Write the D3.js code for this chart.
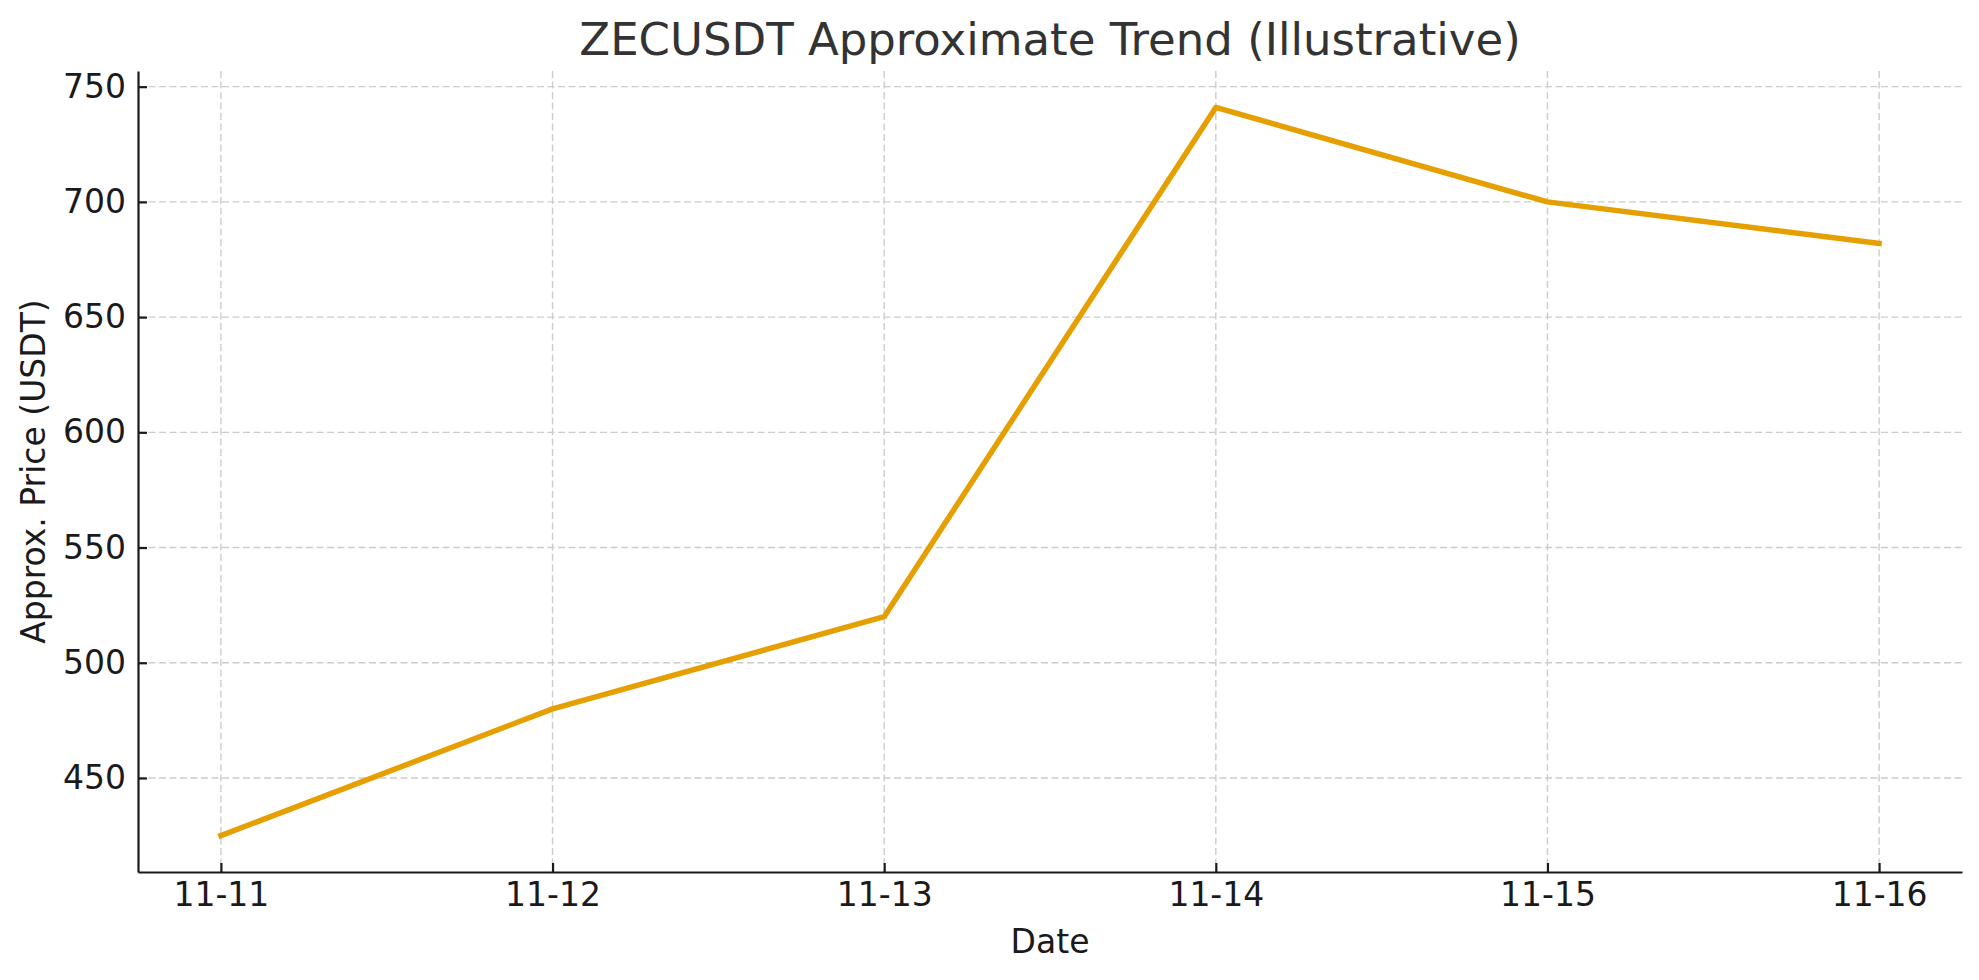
<!DOCTYPE html>
<html><head><meta charset="utf-8">
<script src="https://cdn.jsdelivr.net/npm/d3@7"></script>
<style>body{margin:0;background:#fff;} text{font-family:"DejaVu Sans",sans-serif;}</style>
</head><body><svg id="chart" width="1979" height="980"></svg>
<script>
const dates = ["11-11","11-12","11-13","11-14","11-15","11-16"];
const prices = [425,480,520,741,700,682];
const yTicks = [450,500,550,600,650,700,750];
const title = "ZECUSDT Approximate Trend (Illustrative)";
const xLabel = "Date";
const yLabel = "Approx. Price (USDT)";

const L = 138, R = 1962, T = 71, B = 872;
const svg = d3.select("#chart");
const n = dates.length;
const x = d3.scaleLinear().domain([-0.05*(n-1), (n-1)*1.05]).range([L, R]);
const ymin = d3.min(prices), ymax = d3.max(prices), pad = (ymax-ymin)*0.05;
const y = d3.scaleLinear().domain([ymin-pad, ymax+pad]).range([B, T]);

const grid = svg.append("g").attr("stroke","#cccccc").attr("stroke-width",1.4).attr("stroke-dasharray","7,3.5");
grid.selectAll(".gx").data(dates).enter().append("line")
  .attr("x1",(d,i)=>x(i)).attr("x2",(d,i)=>x(i)).attr("y1",T).attr("y2",B);
grid.selectAll(".gy").data(yTicks).enter().append("line")
  .attr("x1",L).attr("x2",R).attr("y1",d=>y(d)).attr("y2",d=>y(d));

const line = d3.line().x((d,i)=>x(i)).y(d=>y(d));
svg.append("path").datum(prices).attr("d",line).attr("fill","none")
  .attr("stroke","#E69F00").attr("stroke-width",5.5).attr("stroke-linejoin","round").attr("stroke-linecap","square");

// axes
const xAxis = d3.axisBottom(x).tickValues(d3.range(n)).tickFormat(i=>dates[i]).tickSizeInner(-9).tickSizeOuter(0).tickPadding(11);
const gx = svg.append("g").attr("transform",`translate(0,${B})`).call(xAxis);
const yAxis = d3.axisLeft(y).tickValues(yTicks).tickSizeInner(-9).tickSizeOuter(0).tickPadding(12);
const gy = svg.append("g").attr("transform",`translate(${L},0)`).call(yAxis);
[gx,gy].forEach(g=>{
  g.select(".domain").attr("stroke","#1a1a1a").attr("stroke-width",2.2);
  g.selectAll(".tick line").attr("stroke","#1a1a1a").attr("stroke-width",2.2);
  g.selectAll(".tick text").attr("fill","#1a1a1a").style("font-family","DejaVu Sans").style("font-size","33px");
});
gx.selectAll(".tick text").attr("dy","0.71em");

svg.append("text").attr("x",(L+R)/2).attr("y",55).attr("text-anchor","middle")
  .attr("fill","#333333").style("font-size","45px").text(title);
svg.append("text").attr("x",(L+R)/2).attr("y",953).attr("text-anchor","middle")
  .attr("fill","#1a1a1a").style("font-size","33px").text(xLabel);
svg.append("text").attr("transform",`translate(45,${(T+B)/2}) rotate(-90)`).attr("text-anchor","middle")
  .attr("fill","#1a1a1a").style("font-size","33px").text(yLabel);
</script></body></html>
